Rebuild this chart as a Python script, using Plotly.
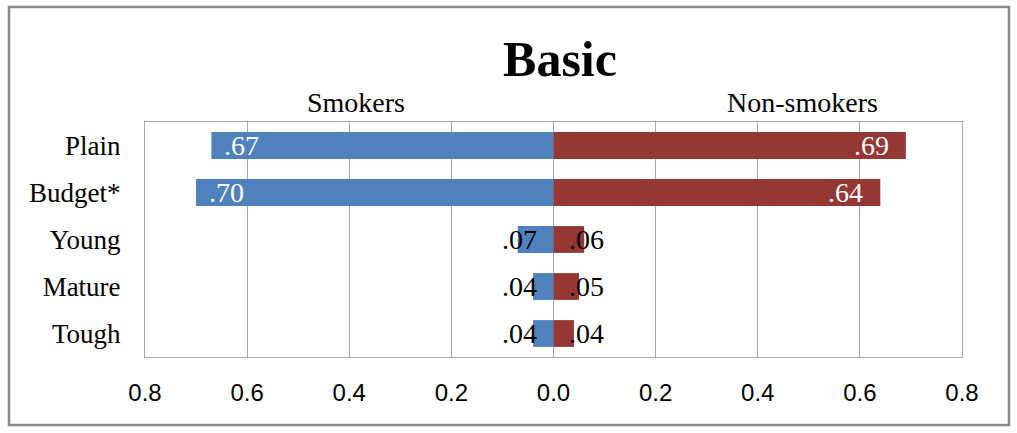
import plotly.graph_objects as go

categories = ["Plain", "Budget*", "Young", "Mature", "Tough"]
smokers = [0.67, 0.70, 0.07, 0.04, 0.04]
non_smokers = [0.69, 0.64, 0.06, 0.05, 0.04]
tick_vals = [-0.8, -0.6, -0.4, -0.2, 0.0, 0.2, 0.4, 0.6, 0.8]
tick_text = ["0.8", "0.6", "0.4", "0.2", "0.0", "0.2", "0.4", "0.6", "0.8"]

BLUE = "#4F81BD"
RED = "#953735"
SERIF = "Liberation Serif, Times New Roman, serif"
SANS = "Liberation Sans Narrow, Liberation Sans, Arial, sans-serif"

fig = go.Figure()
fig.add_trace(go.Bar(y=categories, x=[-v for v in smokers], orientation="h",
                     marker=dict(color=BLUE, line=dict(width=0)), name="Smokers",
                     hoverinfo="skip"))
fig.add_trace(go.Bar(y=categories, x=non_smokers, orientation="h",
                     marker=dict(color=RED, line=dict(width=0)), name="Non-smokers",
                     hoverinfo="skip"))

def fmt(v):
    return f"{v:.2f}".lstrip("0")

annotations = []
for cat, v in zip(categories, smokers):
    if v >= 0.3:
        annotations.append(dict(x=-v, y=cat, xref="x", yref="y", text=fmt(v), showarrow=False,
                                xanchor="left", xshift=11, font=dict(family=SERIF, size=28, color="white")))
    else:
        annotations.append(dict(x=0, y=cat, xref="x", yref="y", text=fmt(v), showarrow=False,
                                xanchor="right", xshift=-15, font=dict(family=SERIF, size=28, color="black")))
for cat, v in zip(categories, non_smokers):
    if v >= 0.3:
        annotations.append(dict(x=v, y=cat, xref="x", yref="y", text=fmt(v), showarrow=False,
                                xanchor="right", xshift=-15, font=dict(family=SERIF, size=28, color="white")))
    else:
        annotations.append(dict(x=0, y=cat, xref="x", yref="y", text=fmt(v), showarrow=False,
                                xanchor="left", xshift=13, font=dict(family=SERIF, size=28, color="black")))

annotations.append(dict(x=0.258, y=1.081, xref="paper", yref="paper", text="Smokers", showarrow=False,
                        xanchor="center", yanchor="middle", font=dict(family=SERIF, size=28, color="black")))
annotations.append(dict(x=0.805, y=1.081, xref="paper", yref="paper", text="Non-smokers", showarrow=False,
                        xanchor="center", yanchor="middle", font=dict(family=SERIF, size=28, color="black")))

fig.update_layout(
    width=1017, height=433,
    margin=dict(l=145, r=55, t=122, b=76),
    paper_bgcolor="white", plot_bgcolor="white",
    barmode="relative", bargap=0.43,
    showlegend=False,
    title=dict(text="<b>Basic</b>", x=560 / 1017, xanchor="center", y=1 - 58 / 433, yanchor="middle",
               font=dict(family=SERIF, size=50, color="black")),
    annotations=annotations,
    shapes=[dict(type="rect", xref="paper", yref="paper",
                 x0=(9 - 145) / 817, x1=(1009 - 145) / 817,
                 y0=(357 - 425) / 235, y1=(357 - 7) / 235,
                 line=dict(color="#8a8a8a", width=2.5), fillcolor="rgba(0,0,0,0)", layer="below")],
)
fig.update_xaxes(range=[-0.8, 0.8], tickvals=tick_vals, ticktext=tick_text,
                 showgrid=True, gridcolor="#a6a6a6", gridwidth=1,
                 showline=True, linecolor="#a6a6a6", linewidth=1, mirror=True,
                 zeroline=False, ticks="", ticklabelstandoff=14,
                 tickfont=dict(family=SANS, size=24, color="black"))
fig.update_yaxes(categoryorder="array", categoryarray=categories, autorange="reversed",
                 showgrid=False, showline=True, linecolor="#a6a6a6", linewidth=1, mirror=True,
                 zeroline=False, ticks="", ticklabelstandoff=18,
                 tickfont=dict(family=SERIF, size=27, color="black"))

fig.write_html("out.html", config={"displayModeBar": False},
               post_script="document.body.style.margin='0';document.body.style.padding='0';")
